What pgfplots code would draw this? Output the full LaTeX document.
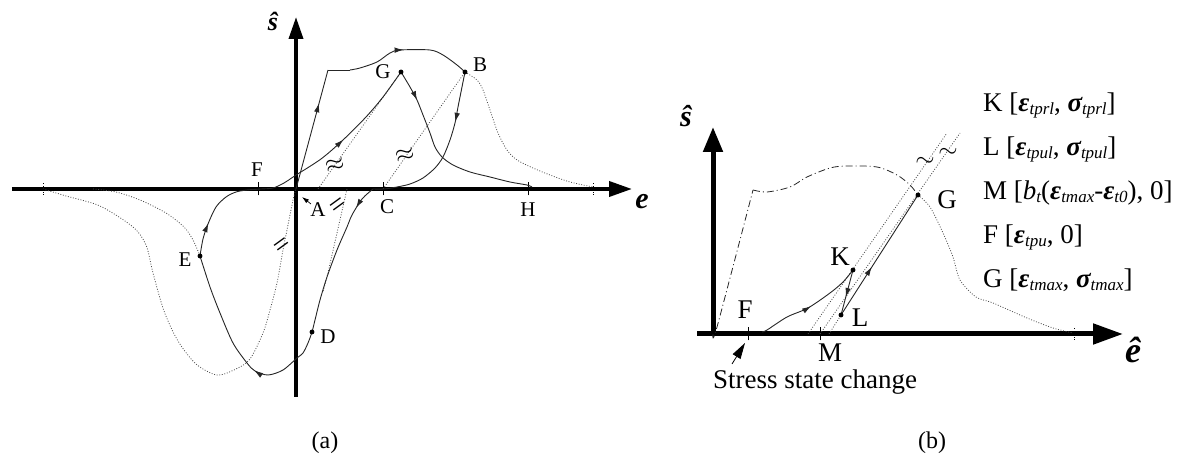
\documentclass[border=0pt]{standalone}
\usepackage{fontspec}
\setmainfont{Liberation Serif}
\usepackage{pgfplots}
\pgfplotsset{compat=1.18}
\usetikzlibrary{arrows.meta,decorations.markings}

\newcommand\la{\fontsize{21}{23}\selectfont}
\newcommand\lb{\fontsize{27}{30}\selectfont}
\newcommand\sub[1]{\raisebox{-3pt}{\fontsize{17}{17}\selectfont\itshape #1}}
\newcommand\beps{{\bfseries\itshape ε}}
\newcommand\bsig{{\bfseries\itshape σ}}

\tikzset{
  curve/.style={line width=0.9pt, black!85},
  dots/.style={line width=0.8pt, black!70, dash pattern=on 0.9pt off 1.7pt},
  dashdot/.style={line width=0.8pt, black!85, dash pattern=on 7pt off 3pt on 1pt off 3pt},
  marr/.style={postaction={decorate}, decoration={markings,
      mark=at position #1 with {\arrow{Latex[length=9pt,width=5.5pt]}}}},
  marr2/.style 2 args={postaction={decorate}, decoration={markings,
      mark=at position #1 with {\arrow{Latex[length=9pt,width=5.5pt]}},
      mark=at position #2 with {\arrow{Latex[length=9pt,width=5.5pt]}}}},
  hatch/.style={rotate=36, inner sep=0pt, font=\fontsize{28}{28}\selectfont},
}

\begin{document}
\begin{tikzpicture}
\path[use as bounding box] (0,0) rectangle (1188pt,457pt);

% ---------------- panel (a): cyclic stress path ----------------
\begin{axis}[
  at={(12pt,60pt)}, anchor=south west, x=1pt, y=1pt,
  xmin=-284, xmax=336, ymin=-208, ymax=172,
  axis lines=middle, clip=false,
  x axis line style={line width=3.8pt, -{Triangle[length=23pt,width=15pt]}},
  y axis line style={line width=3.6pt, -{Triangle[length=22pt,width=14pt]}},
  xtick={-38,87,232}, xticklabels={}, ytick=\empty,
  tick align=center, major tick length=13pt,
  tick style={black, line width=0.8pt},
]
% envelope in tension (dotted past B)
\addplot[dots, smooth] coordinates {(169,117) (181,109) (187,99) (194,79) (202,56) (211,39) (221,29) (237,21) (254,14) (274,7) (297,2)};
% outer envelope in compression
\addplot[dots, smooth] coordinates {(-253,0) (-230,-7) (-196,-17) (-163,-38) (-150,-56) (-143,-84) (-132,-122) (-118,-152) (-100,-175) (-79,-186) (-60,-180) (-46,-170) (-33,-144) (-26,-121) (-19,-94) (-13,-61) (-9,-41) (-3,-11) (0,0)};
% inner envelope in compression, up to E
\addplot[dots, smooth] coordinates {(-203,0) (-180,-3) (-156,-11) (-130,-24) (-112,-38) (-103,-51) (-96,-67)};
% unloading / reloading secants
\addplot[dots] coordinates {(22,0) (105,117)};
\addplot[dots] coordinates {(87,0) (169,117)};
\addplot[dots] coordinates {(51,0) (41,-44) (31,-88) (27,-103)};

% loading path
\addplot[curve, marr=0.72] coordinates {(0,0) (32,119)};
\addplot[curve] coordinates {(32,119) (54,119)};
\addplot[curve, smooth, marr=0.46] coordinates {(54,119) (64,121) (81,127) (94,136) (104,139) (134,139) (147,134) (161,124) (169,117)};
\addplot[curve, smooth, marr=0.3] coordinates {(169,117) (166,102) (162,82) (159,66) (154,49) (147,32) (139,21) (127,11) (114,5) (101,2) (88,0) (77,0)};
\addplot[curve, smooth, marr2={0.07}{0.65}] coordinates {(77,0) (66,-10) (56,-26) (51,-38) (41,-61) (31,-88) (24,-111) (19,-131) (16,-143) (12,-154) (7,-164) (1,-169) (-13,-181) (-28,-186) (-41,-182) (-49,-174) (-63,-154) (-76,-124) (-86,-98) (-96,-67)};
\addplot[curve, smooth, marr=0.24] coordinates {(-96,-67) (-93,-50) (-88,-35) (-80,-18) (-70,-8) (-60,-3) (-49,-1) (-35,0) (-23,1) (-12,6) (0,14)};
\addplot[curve, smooth, marr=0.4] coordinates {(0,14) (25,30) (47,49) (70,72) (87,92) (105,117)};
\addplot[curve, smooth, marr=0.17] coordinates {(105,117) (114,102) (121,89) (127,74) (134,56) (139,42) (146,32) (157,24) (174,17) (194,12) (214,7) (231,4) (236,2)};

% marked states
\addplot[only marks, mark=*, mark size=2.2pt, black] coordinates {(105,117) (169,117) (-96,-67) (16,-143)};

% dotted ticks at the ends of the envelope
\draw[dotted, line width=0.7pt] (axis cs:-253,-6) -- (axis cs:-253,6);
\draw[dotted, line width=0.7pt] (axis cs:297,-6) -- (axis cs:297,6);

% break marks
\node[inner sep=0pt, rotate=15, font=\fontsize{26}{26}\selectfont] at (axis cs:39,24) {$\approx$};
\node[inner sep=0pt, rotate=15, font=\fontsize{26}{26}\selectfont] at (axis cs:109,34) {$\approx$};
\node[hatch] at (axis cs:-13,-58) {=};
\node[hatch] at (axis cs:43,-18) {=};
\draw[line width=0.7pt, -{Latex[length=7pt,width=4.5pt]}] (axis cs:15,-15) -- (axis cs:6,-8);

% point names
\node[font=\la] at (axis cs:-39,19) {F};
\node[font=\la] at (axis cs:87,117) {G};
\node[font=\la] at (axis cs:184,124) {B};
\node[font=\la] at (axis cs:91,-18) {C};
\node[font=\la] at (axis cs:232,-21) {H};
\node[font=\la] at (axis cs:-111,-71) {E};
\node[font=\la] at (axis cs:32,-148) {D};
\node[font=\la] at (axis cs:22,-21) {A};
\node[font=\fontsize{26}{26}\selectfont\bfseries\itshape] at (axis cs:-23,168) {ŝ};
\node[font=\fontsize{30}{30}\selectfont\bfseries\itshape] at (axis cs:346,-13) {e};
\end{axis}

% ---------------- panel (b): partial unloading and reloading ----------------
\begin{axis}[
  at={(697pt,121pt)}, anchor=south west, x=1pt, y=1pt,
  xmin=-16, xmax=410, ymin=-2, ymax=207,
  axis lines=middle, clip=false,
  x axis line style={line width=5pt, -{Triangle[length=30pt,width=20pt]}},
  y axis line style={line width=5pt, -{Triangle[length=25pt,width=19pt]}},
  xtick={35,107}, xticklabels={}, ytick=\empty,
  tick align=center, major tick length=13pt,
  tick style={black, line width=0.8pt},
]
% tension envelope
\addplot[dashdot, smooth] coordinates {(0,0) (4,7) (40,144)};
\addplot[dashdot, smooth] coordinates {(40,144) (54,142) (77,147) (94,157) (117,166) (134,168) (164,167) (184,159) (197,149) (205,139)};
\addplot[dots, smooth] coordinates {(205,139) (217,127) (230,101) (240,77) (247,54) (263,37) (280,31) (314,16) (340,6) (360,1)};
% secant lines
\addplot[dots] coordinates {(95,0) (234,201)};
\addplot[dots] coordinates {(107,0) (247,201)};
\addplot[dots] coordinates {(116,0) (128,19)};
% stress path F - K - L - G
\addplot[curve, smooth, marr=0.5] coordinates {(49,2) (54,4) (74,17) (95,26) (117,41) (130,52) (140,64)};
\addplot[curve, marr=0.6] coordinates {(140,64) (128,19)};
\addplot[curve, marr=0.4] coordinates {(128,19) (205,139)};
\addplot[only marks, mark=*, mark size=2.2pt, black] coordinates {(140,64) (128,19) (205,139)};

\draw[dotted, line width=0.7pt] (axis cs:361,-6) -- (axis cs:361,6);
\node[inner sep=0pt, font=\fontsize{26}{26}\selectfont] at (axis cs:212,172) {$\sim$};
\node[inner sep=0pt, font=\fontsize{26}{26}\selectfont] at (axis cs:235,181) {$\sim$};

\node[font=\lb] at (axis cs:32,24) {F};
\node[font=\lb] at (axis cs:127,77) {K};
\node[font=\lb] at (axis cs:147,16) {L};
\node[font=\lb] at (axis cs:234,134) {G};
\node[font=\lb] at (axis cs:117,-19) {M};
\node[font=\lb] at (axis cs:102,-48) {Stress state change};
\draw[line width=0.8pt, -{Triangle[length=16pt,width=9pt]}] (axis cs:19,-30) -- (axis cs:32,-9);
\node[font=\fontsize{30}{30}\selectfont\bfseries\itshape] at (axis cs:-27,218) {ŝ};
\node[font=\fontsize{36}{36}\selectfont\bfseries\itshape] at (axis cs:420,-16) {ê};
\end{axis}

% key to the points of panel (b)
\begin{scope}[every node/.style={anchor=base west, inner sep=0pt, font=\lb}]
\node at (983pt,345pt) {K [\beps\sub{tprl}, \bsig\sub{tprl}]};
\node at (983pt,301pt) {L [\beps\sub{tpul}, \bsig\sub{tpul}]};
\node at (983pt,257pt) {M [\textit{b}\sub{t}(\beps\sub{tmax}-\beps\sub{t0}), 0]};
\node at (983pt,213pt) {F [\beps\sub{tpu}, 0]};
\node at (983pt,169pt) {G [\beps\sub{tmax}, \bsig\sub{tmax}]};
\end{scope}

\node[font=\fontsize{24}{24}\selectfont] at (325pt,14pt) {(a)};
\node[font=\fontsize{24}{24}\selectfont] at (932pt,14pt) {(b)};
\end{tikzpicture}
\end{document}
